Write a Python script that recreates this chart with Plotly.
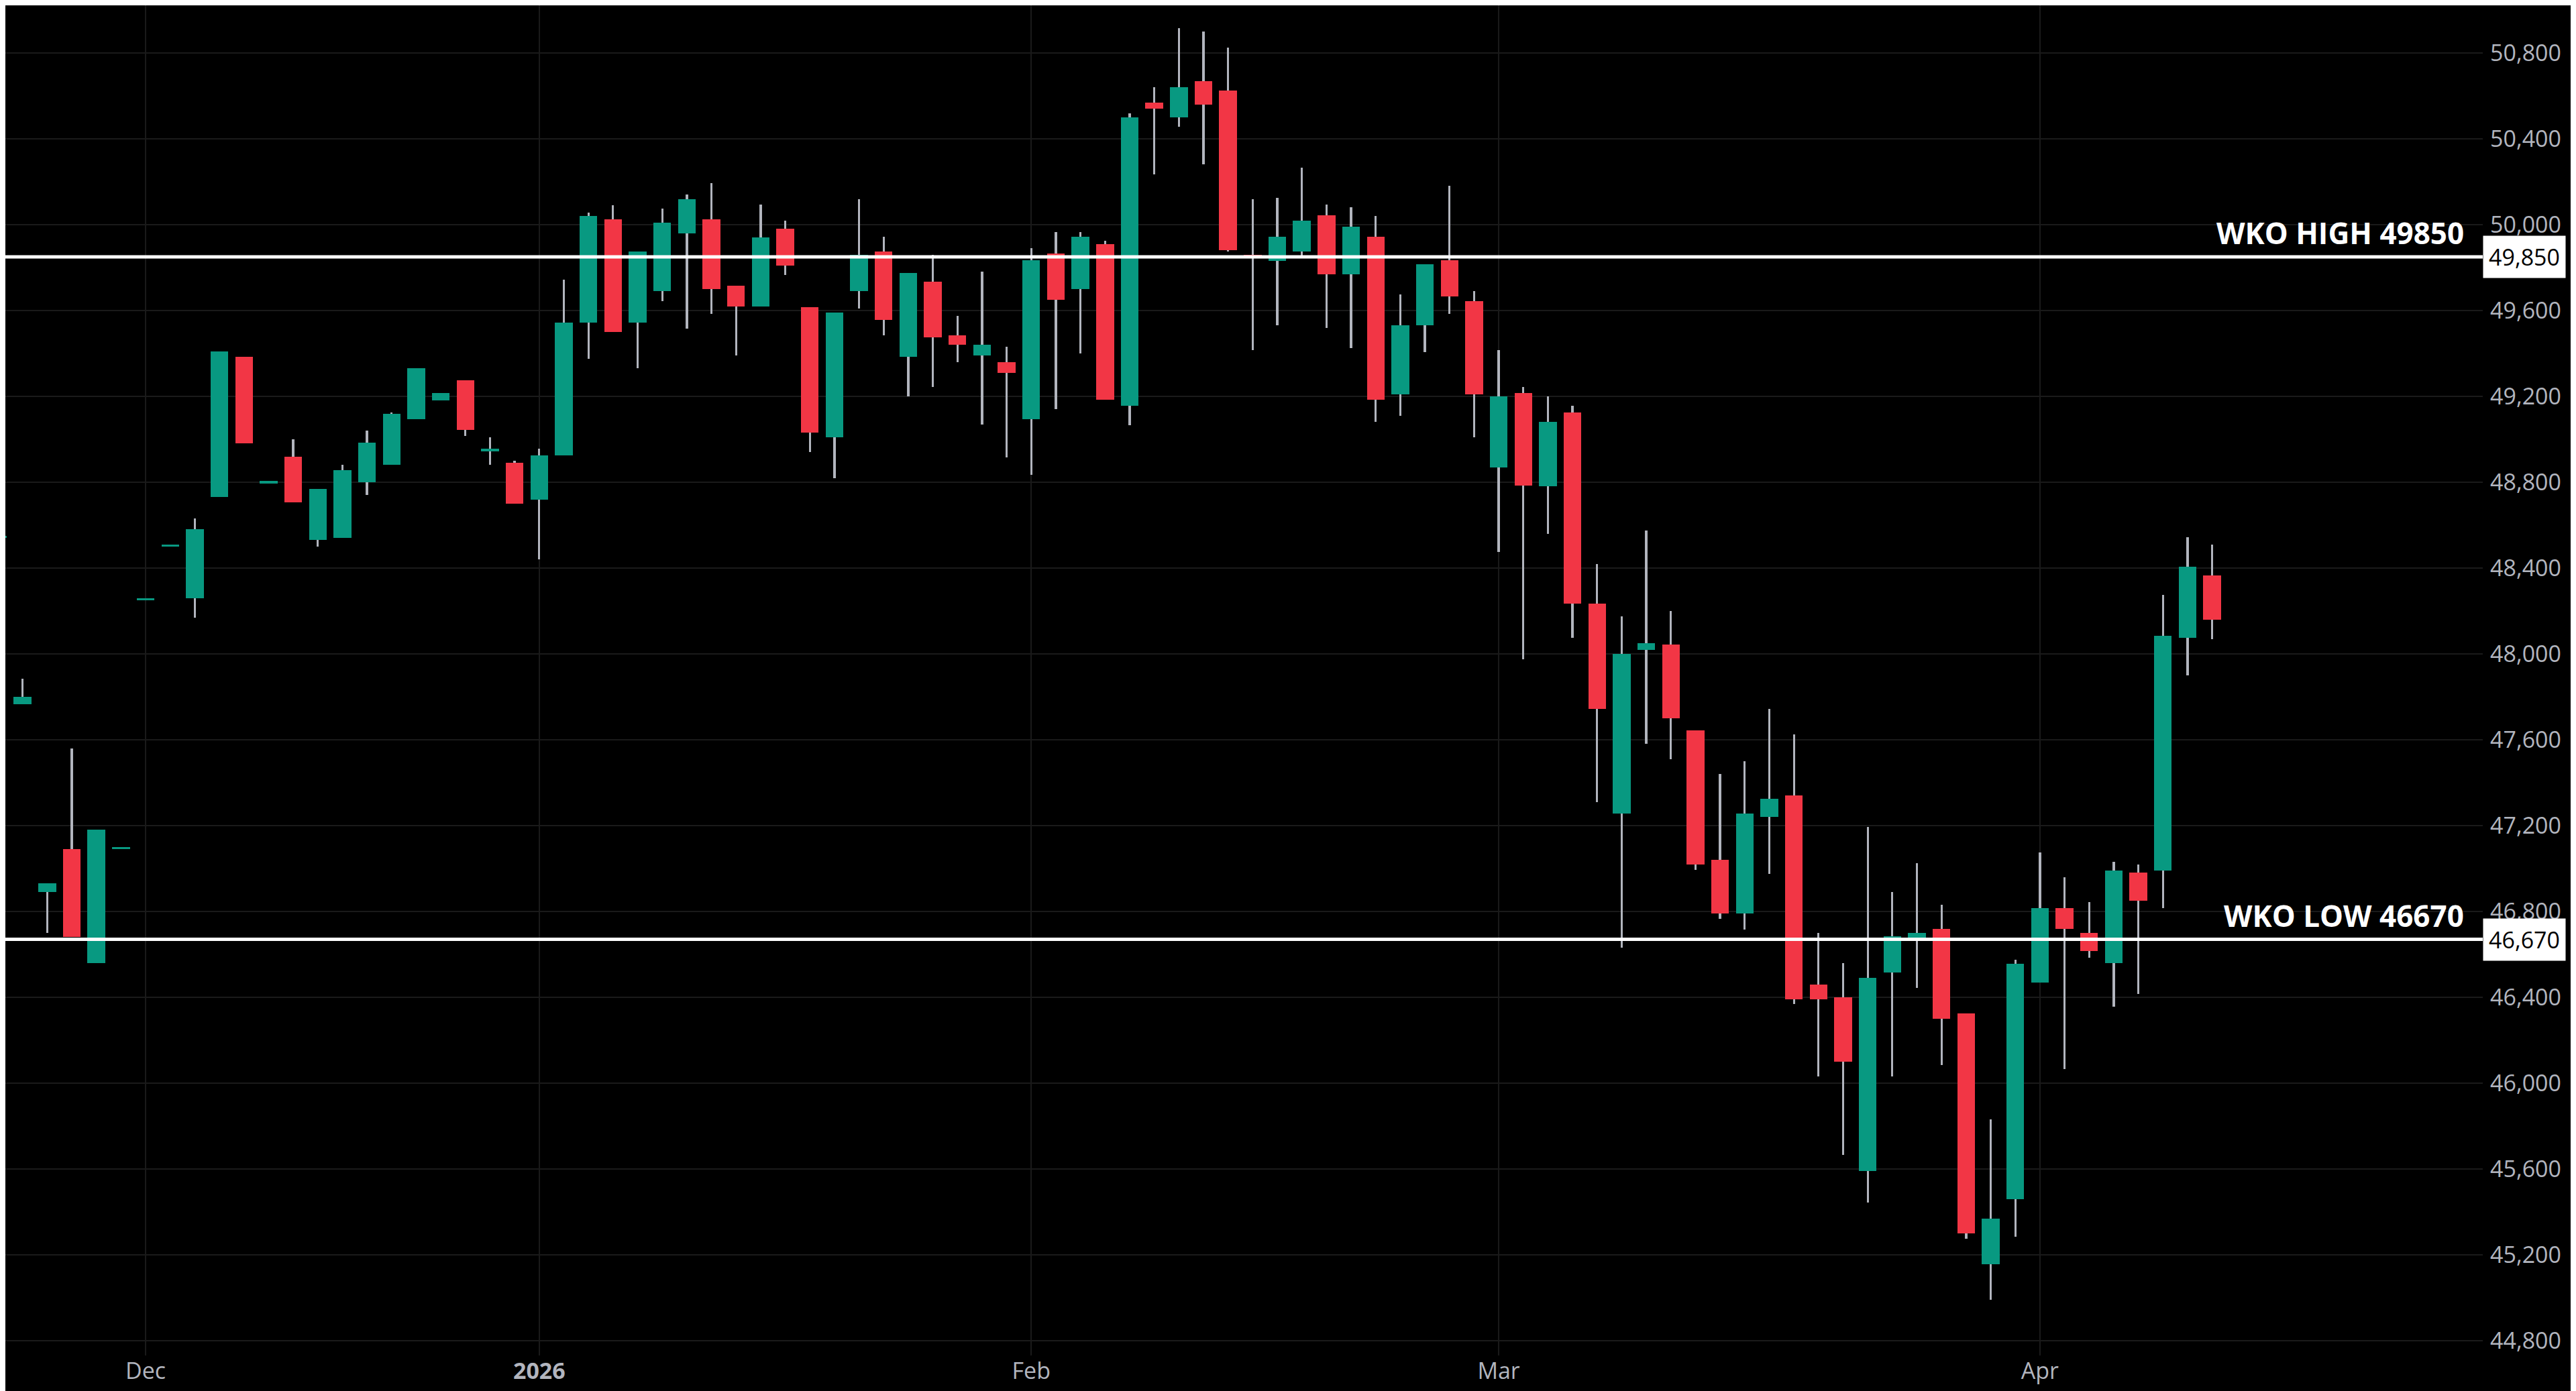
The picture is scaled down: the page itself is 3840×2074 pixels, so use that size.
import plotly.graph_objects as go

# daily bars, index 0..90
opens = [48540, 47765, 46890, 47090, 46560, 47090, 48250, 48500, 48260, 48730,
         49385, 48795, 48920, 48530, 48540, 48800, 48880, 49095, 49180, 49275,
         48945, 48890, 48720, 48925, 49545, 50025, 49545, 49690, 49960, 50025,
         49715, 49620, 49980, 49615, 49010, 49690, 49875, 49385, 49735, 49485,
         49390, 49360, 49095, 49865, 49700, 49910, 49155, 50570, 50500, 50670,
         50625, 49855, 49830, 49875, 50045, 49770, 49945, 49210, 49530, 49835,
         49645, 48870, 49215, 48780, 49125, 48235, 47255, 48020, 48045, 47645,
         47040, 46790, 47240, 47340, 46460, 46400, 45590, 46515, 46675, 46720,
         46325, 45155, 45460, 46470, 46815, 46700, 46560, 46980, 46990, 48075,
         48365]
highs = [48540, 47885, 46930, 47560, 47180, 47090, 48250, 48500, 48630, 49410,
         49385, 48795, 49000, 48770, 48880, 49040, 49125, 49330, 49215, 49275,
         49010, 48900, 48955, 49745, 50055, 50090, 49875, 50075, 50140, 50195,
         49715, 50095, 50020, 49615, 49590, 50120, 49945, 49775, 49860, 49575,
         49780, 49430, 49890, 49965, 49965, 49925, 50520, 50640, 50915, 50900,
         50825, 50120, 50125, 50265, 50095, 50080, 50040, 49675, 49815, 50180,
         49690, 49415, 49245, 49200, 49155, 48420, 48175, 48575, 48200, 47645,
         47440, 47500, 47745, 47625, 46700, 46560, 47195, 46890, 47025, 46830,
         46325, 45830, 46575, 47075, 46960, 46845, 47030, 47020, 48275, 48545,
         48510]
lows = [48540, 47765, 46700, 46680, 46560, 47090, 48250, 48500, 48170, 48730,
        48980, 48795, 48705, 48500, 48540, 48740, 48880, 49095, 49180, 49015,
        48880, 48700, 48440, 48925, 49375, 49500, 49330, 49645, 49515, 49585,
        49390, 49620, 49765, 48940, 48820, 49610, 49485, 49200, 49245, 49360,
        49070, 48915, 48835, 49140, 49400, 49185, 49065, 50235, 50455, 50280,
        49875, 49415, 49530, 49850, 49520, 49425, 49080, 49110, 49405, 49585,
        49010, 48475, 47975, 48560, 48075, 47310, 46630, 47580, 47510, 46995,
        46765, 46715, 46975, 46370, 46030, 45665, 45445, 46030, 46445, 46085,
        45275, 44990, 45285, 46470, 46065, 46585, 46355, 46415, 46815, 47900,
        48070]
closes = [48540, 47800, 46930, 46680, 47180, 47090, 48250, 48500, 48580, 49410,
          48980, 48795, 48705, 48770, 48855, 48985, 49120, 49330, 49215, 49045,
          48955, 48700, 48925, 49545, 50040, 49500, 49875, 50010, 50120, 49700,
          49620, 49940, 49810, 49030, 49590, 49860, 49555, 49775, 49475, 49440,
          49440, 49310, 49835, 49650, 49945, 49185, 50500, 50540, 50640, 50560,
          49880, 49850, 49945, 50020, 49770, 49990, 49185, 49530, 49815, 49665,
          49210, 49200, 48785, 49080, 48235, 47745, 48000, 48050, 47700, 47020,
          46790, 47255, 47325, 46390, 46390, 46100, 46490, 46685, 46700, 46300,
          45300, 45370, 46555, 46815, 46720, 46615, 46990, 46850, 48085, 48405,
          48160]

month_bars = [6, 22, 42, 61, 83]
month_labels = ["Dec", "<b>2026</b>", "Feb", "Mar", "Apr"]

levels = [49850, 46670]
level_names = ["WKO HIGH 49850", "WKO LOW 46670"]
level_tags = ["49,850", "46,670"]

UP = "#089981"
DOWN = "#F23645"
idx = list(range(len(opens)))

fig = go.Figure()
# wicks
fig.add_trace(go.Bar(x=idx, y=[h - l for h, l in zip(highs, lows)], base=lows,
                     width=0.09, marker=dict(color="#b2b5be", line_width=0),
                     showlegend=False, hoverinfo="skip"))
# bodies
base = [min(o, c) for o, c in zip(opens, closes)]
size = [max(abs(c - o), 10) for o, c in zip(opens, closes)]
cols = [UP if c >= o else DOWN for o, c in zip(opens, closes)]
fig.add_trace(go.Bar(x=idx, y=size, base=base, marker=dict(color=cols, line_width=0),
                     width=0.72, showlegend=False))

for lv, name, tag in zip(levels, level_names, level_tags):
    fig.add_hline(y=lv, line=dict(color="white", width=5))
    fig.add_annotation(x=0.993, xref="paper", y=lv, yref="y", text=f"<b>{name}</b>",
                       showarrow=False, xanchor="right", yanchor="bottom", yshift=4,
                       font=dict(size=44, color="white"))
    fig.add_annotation(x=1.0, xref="paper", y=lv, yref="y", text=tag, showarrow=False,
                       xanchor="left", yanchor="middle", bgcolor="white", borderpad=8,
                       font=dict(size=34, color="black"))

fig.update_layout(
    width=3840, height=2074,
    paper_bgcolor="black", plot_bgcolor="black",
    margin=dict(l=0, r=147, t=0, b=61),
    font=dict(family="Open Sans", size=34, color="#b2b5be"),
    barmode="overlay", bargap=0,
    xaxis=dict(range=[0.3, 101.0], tickvals=month_bars, ticktext=month_labels,
               showgrid=True, gridcolor="#1a1a1a", gridwidth=2, zeroline=False,
               ticks="", fixedrange=True),
    yaxis=dict(range=[44731, 51022], side="right", dtick=400, tick0=44800,
               tickformat=",d", showgrid=True, gridcolor="#1a1a1a", gridwidth=2,
               zeroline=False, ticks="", ticklabelstandoff=10),
)

fig.write_html("out.html")
